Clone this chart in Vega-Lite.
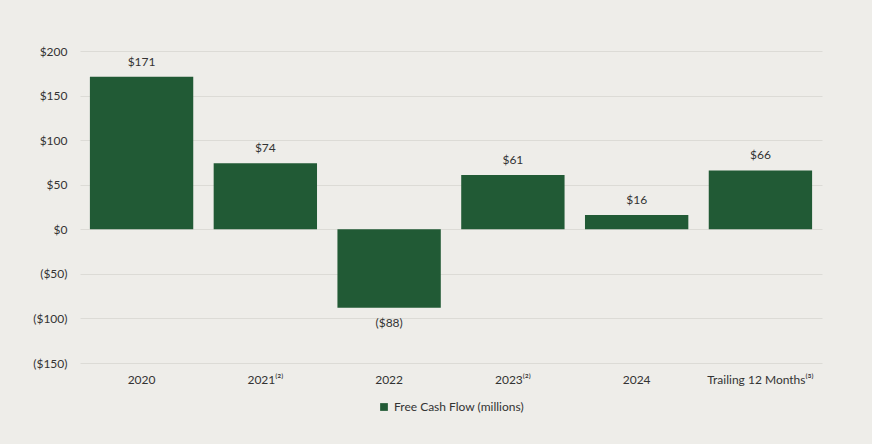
{
  "$schema": "https://vega.github.io/schema/vega-lite/v6.json",
  "autosize": "none",
  "width": 742,
  "height": 312,
  "padding": {"left": 80, "top": 51, "right": 50, "bottom": 81},
  "background": "#eeede9",
  "config": {
    "view": {"stroke": null},
    "font": "Lato",
    "axis": {"labelFont": "Lato", "labelColor": "#333333", "labelFontSize": 12},
    "legend": {"labelFont": "Lato", "labelColor": "#333333", "labelFontSize": 12}
  },
  "data": {
    "values": [
      {"period": "2020", "value": 171, "label": "$171", "series": "Free Cash Flow (millions)"},
      {"period": "2021⁽²⁾", "value": 74, "label": "$74", "series": "Free Cash Flow (millions)"},
      {"period": "2022", "value": -88, "label": "($88)", "series": "Free Cash Flow (millions)"},
      {"period": "2023⁽²⁾", "value": 61, "label": "$61", "series": "Free Cash Flow (millions)"},
      {"period": "2024", "value": 16, "label": "$16", "series": "Free Cash Flow (millions)"},
      {"period": "Trailing 12 Months⁽³⁾", "value": 66, "label": "$66", "series": "Free Cash Flow (millions)"}
    ]
  },
  "encoding": {
    "x": {
      "field": "period", "type": "nominal", "sort": null,
      "scale": {"paddingInner": 0.165, "paddingOuter": 0.08},
      "axis": {"title": null, "labelAngle": 0, "domain": false, "ticks": false, "labelPadding": 11, "grid": false}
    },
    "y": {
      "field": "value", "type": "quantitative",
      "scale": {"domain": [-150, 200], "nice": false},
      "axis": {
        "title": null, "values": [-150, -100, -50, 0, 50, 100, 150, 200],
        "domain": false, "ticks": false, "labelPadding": 13,
        "gridColor": "#dcdbd6", "gridWidth": 1,
        "labelExpr": "datum.value < 0 ? '($' + abs(datum.value) + ')' : '$' + datum.value"
      }
    }
  },
  "layer": [
    {
      "mark": {"type": "bar", "color": "#215a35"},
      "encoding": {
        "color": {
          "field": "series", "type": "nominal",
          "scale": {"range": ["#215a35"]},
          "legend": {"title": null, "orient": "none", "legendX": 298, "legendY": 350, "symbolType": "square", "symbolSize": 60, "labelOffset": 4}
        }
      }
    },
    {
      "transform": [{"filter": "datum.value >= 0"}],
      "mark": {"type": "text", "baseline": "bottom", "dy": -8, "fontSize": 12, "color": "#333333"},
      "encoding": {"text": {"field": "label"}}
    },
    {
      "transform": [{"filter": "datum.value < 0"}],
      "mark": {"type": "text", "baseline": "top", "dy": 10, "fontSize": 12, "color": "#333333"},
      "encoding": {"text": {"field": "label"}}
    }
  ]
}
